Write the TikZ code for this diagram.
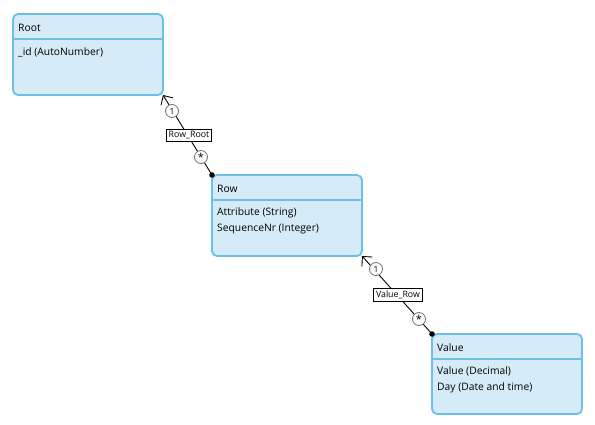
\documentclass[tikz,border=0pt]{standalone}
\usepackage{fontspec}
\setmainfont{Open Sans}
\usetikzlibrary{arrows.meta}
\definecolor{entfill}{HTML}{D5EBF7}
\definecolor{entdraw}{HTML}{6CC0E8}
\definecolor{circgray}{HTML}{707070}
\tikzset{
  entity/.style={draw=entdraw, fill=entfill, line width=1.8pt, rounded corners=5pt},
  sepline/.style={draw=entdraw, line width=1.3pt},
  etext/.style={anchor=west, font=\fontsize{10.3}{15.5}\selectfont, inner sep=0pt, align=left},
  rel/.style={draw=black, line width=0.9pt},
  relname/.style={draw=black, fill=white, line width=0.8pt, font=\fontsize{8.8}{10}\selectfont, inner sep=2.2pt},
  mult/.style={circle, draw=circgray, fill=white, line width=0.8pt, inner sep=0pt, minimum size=13pt, font=\fontsize{8.5}{9}\selectfont},
}
\begin{document}
\begin{tikzpicture}[x=1pt,y=-1pt]
\useasboundingbox (0,0) rectangle (595,424);
% Root
\draw[entity] (13,14) rectangle (163,95);
\draw[sepline] (14,39) -- (162,39);
\node[etext] (roott) at (18,27.5) {Root};
\node[etext] (roota) at (18,52.5) {\_id (AutoNumber)};
\coordinate (rootc) at (163,95);
% Row
\draw[entity] (212,175) rectangle (362,256);
\draw[sepline] (213,200) -- (361,200);
\node[etext] (rowt) at (217,188.5) {Row};
\node[etext] (rowa) at (217,221) {Attribute (String)\\SequenceNr (Integer)};
\coordinate (rowc) at (212,175);
\coordinate (rowc2) at (362,256);
% Value
\draw[entity] (432,334) rectangle (582,414);
\draw[sepline] (433,359) -- (581,359);
\node[etext] (valt) at (437,347.5) {Value};
\node[etext] (vala) at (437,380) {Value (Decimal)\\Day (Date and time)};
\coordinate (valc) at (432,334);
% relation Row_Root
\draw[rel, -{Straight Barb[length=7pt,width=14pt]}] (rowc) -- (rootc);
\fill (rowc) circle (2.8pt);
\node[relname] (rr) at (189,135) {Row\_Root};
\node[mult] (rr1) at (172,111) {1};
\node[mult] (rrs) at (201,157) {\raisebox{-2.5pt}{\fontsize{11}{11}\selectfont *}};
% relation Value_Row
\draw[rel, -{Straight Barb[length=7pt,width=14pt]}] (valc) -- (rowc2);
\fill (valc) circle (2.8pt);
\node[relname] (vr) at (398,295) {Value\_Row};
\node[mult] (vr1) at (376,269) {1};
\node[mult] (vrs) at (419,319) {\raisebox{-2.5pt}{\fontsize{11}{11}\selectfont *}};
\end{tikzpicture}
\end{document}
